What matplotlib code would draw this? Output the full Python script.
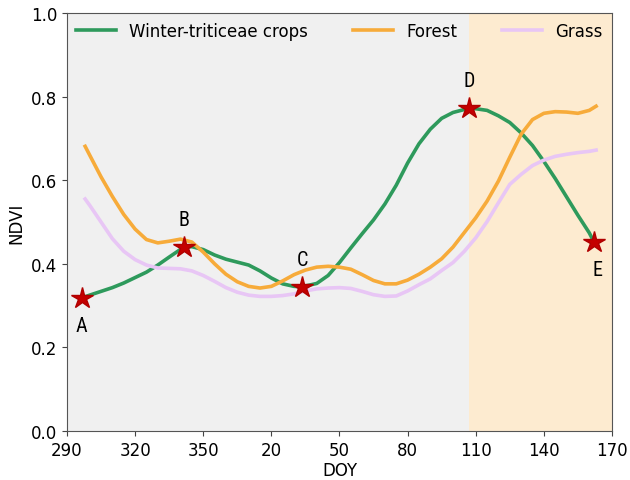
import matplotlib
matplotlib.use("Agg")
import matplotlib.pyplot as plt
from matplotlib import font_manager

# Day of year on a running scale (values past 360 belong to the next year)
doy_crop = [296.5, 300, 305, 310, 315, 320, 325, 330, 335, 341.5, 345, 350, 355, 360, 365,
            370, 375, 380, 385, 390, 393.5, 400, 405, 410, 415, 420, 425, 430, 435, 440,
            445, 450, 455, 460, 467, 470, 475, 480, 485, 490, 495, 500, 505, 510, 515,
            520, 522]
ndvi_crop = [0.318, 0.325, 0.334, 0.343, 0.354, 0.367, 0.380, 0.397, 0.416, 0.440, 0.441,
             0.434, 0.421, 0.411, 0.404, 0.397, 0.383, 0.366, 0.352, 0.346, 0.345, 0.353,
             0.372, 0.403, 0.438, 0.472, 0.505, 0.543, 0.588, 0.641, 0.687, 0.722, 0.748,
             0.762, 0.772, 0.771, 0.767, 0.754, 0.738, 0.713, 0.683, 0.645, 0.604, 0.560,
             0.516, 0.474, 0.453]

doy_forest = [298, 300, 305, 310, 315, 320, 325, 330, 335, 340, 345, 350, 355, 360, 365,
              370, 375, 380, 385, 390, 395, 400, 405, 410, 415, 420, 425, 430, 435, 440,
              445, 450, 455, 460, 465, 470, 475, 480, 485, 490, 495, 500, 505, 510, 515,
              520, 523]
ndvi_forest = [0.681, 0.660, 0.608, 0.561, 0.518, 0.483, 0.458, 0.450, 0.454, 0.459, 0.452,
               0.428, 0.400, 0.375, 0.357, 0.346, 0.342, 0.346, 0.359, 0.374, 0.385, 0.392,
               0.394, 0.392, 0.387, 0.374, 0.360, 0.352, 0.352, 0.361, 0.375, 0.392, 0.412,
               0.440, 0.475, 0.510, 0.550, 0.598, 0.655, 0.710, 0.745, 0.760, 0.764, 0.763,
               0.760, 0.767, 0.777]

doy_grass = [298, 300, 305, 310, 315, 320, 325, 330, 335, 340, 345, 350, 355, 360, 365,
             370, 375, 380, 385, 390, 395, 400, 405, 410, 415, 420, 425, 430, 435, 440,
             445, 450, 455, 460, 465, 470, 475, 480, 485, 490, 495, 500, 505, 510, 515,
             520, 523]
ndvi_grass = [0.555, 0.540, 0.500, 0.460, 0.430, 0.410, 0.397, 0.390, 0.389, 0.388, 0.383,
              0.372, 0.358, 0.343, 0.332, 0.325, 0.322, 0.322, 0.324, 0.328, 0.335, 0.340,
              0.342, 0.343, 0.341, 0.334, 0.326, 0.322, 0.323, 0.335, 0.350, 0.364, 0.384,
              0.403, 0.430, 0.462, 0.501, 0.546, 0.590, 0.614, 0.635, 0.648, 0.657, 0.662,
              0.666, 0.669, 0.672]

# Key growth stages of the crop curve
stage_names = ["A", "B", "C", "D", "E"]
stage_doy = [296.5, 341.5, 393.5, 467, 522]
stage_ndvi = [0.318, 0.440, 0.345, 0.772, 0.453]
stage_above = [False, True, True, True, False]

tick_pos = [290, 320, 350, 380, 410, 440, 470, 500, 530]
tick_labels = ["290", "320", "350", "20", "50", "80", "110", "140", "170"]
season_split = 467.2

# Narrow face for the stage letters, if one is available
installed = {f.name for f in font_manager.fontManager.ttflist}
letter_family = ["DejaVu Sans"]
for cand in ["Liberation Sans Narrow", "Roboto Condensed", "Open Sans Condensed",
             "Noto Sans Display", "Roboto"]:
    if cand in installed:
        letter_family = [cand, "DejaVu Sans"]
        break

fig = plt.figure(figsize=(6.3, 4.81), dpi=100)
ax = fig.add_axes([0.1063, 0.1019, 0.8651, 0.8690])

ax.axvspan(290, season_split, color="#f0f0f0", lw=0, zorder=0)
ax.axvspan(season_split, 530, color="#fdebd0", lw=0, zorder=0)

ax.plot(doy_crop, ndvi_crop, color="#2e9a5c", lw=2.6, label="Winter-triticeae crops", zorder=3)
ax.plot(doy_forest, ndvi_forest, color="#f7ab3a", lw=2.6, label="Forest", zorder=3)
ax.plot(doy_grass, ndvi_grass, color="#e8c6f5", lw=2.6, label="Grass", zorder=3)

ax.plot(stage_doy, stage_ndvi, linestyle="none", marker="*", markersize=16,
        color="#c40000", markeredgecolor="#b00000", zorder=5)
for name, x, y, above in zip(stage_names, stage_doy, stage_ndvi, stage_above):
    dx = 2.5 if name == "E" else 0
    ax.annotate(name, (x, y), xytext=(dx, 20 if above else -20), textcoords="offset points",
                ha="center", va="center", fontsize=14.5, family=letter_family,
                fontstretch="condensed", zorder=6)

ax.set_xlim(290, 530)
ax.set_ylim(0, 1.0)
ax.set_xticks(tick_pos)
ax.set_xticklabels(tick_labels)
ax.set_yticks([0.0, 0.2, 0.4, 0.6, 0.8, 1.0])
ax.tick_params(labelsize=12, color="#444444")
ax.set_xlabel("DOY", fontsize=12, labelpad=2)
ax.set_ylabel("NDVI", fontsize=12)
for s in ax.spines.values():
    s.set_color("#555555")

ax.legend(loc="upper center", ncol=3, mode="expand", frameon=False, fontsize=12,
          bbox_to_anchor=(0, 1, 1, 0), borderaxespad=0.15, handlelength=2.4,
          handletextpad=0.8)

fig.savefig("out.png", dpi=100)
